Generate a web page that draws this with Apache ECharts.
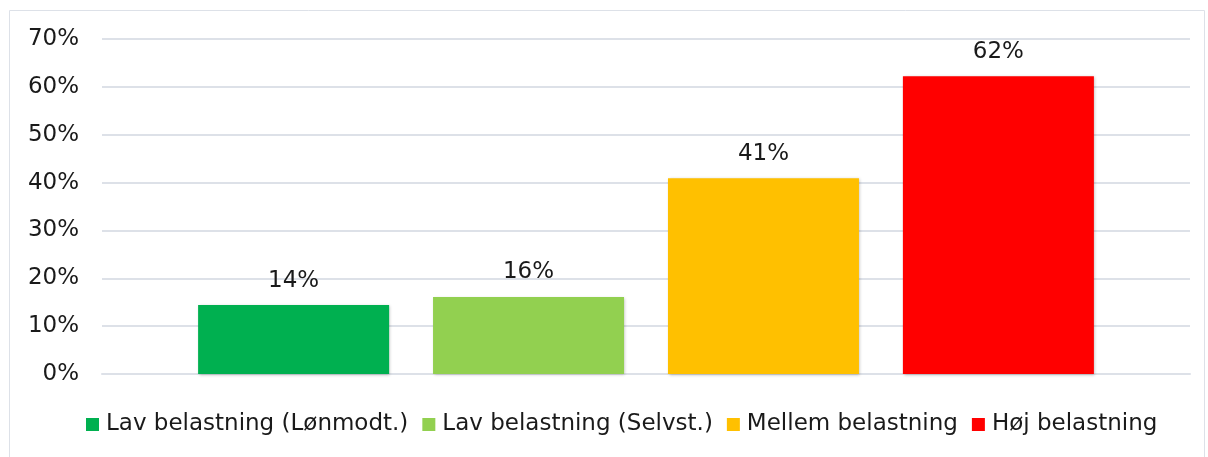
<!DOCTYPE html>
<html lang="da">
  <head>
    <meta charset="UTF-8" />
    <title>Belastning</title>
    <style>
      body { margin: 0; padding: 0; background: #ffffff; }
      #container { width: 1208px; height: 457px; }
    </style>
  </head>
  <body>
    <div id="container"></div>
    <script src="https://cdn.jsdelivr.net/npm/echarts@6/dist/echarts.min.js"></script>
    <script>
      // data
      const seriesNames = [
        "Lav belastning (Lønmodt.)",
        "Lav belastning (Selvst.)",
        "Mellem belastning",
        "Høj belastning",
      ];
      const seriesValues = [14.4, 16.1, 40.9, 62.2];
      const seriesColors = ["#00b050", "#92d050", "#ffc000", "#ff0000"];
      const yTicks = [0, 10, 20, 30, 40, 50, 60, 70];

      const font = "DejaVu Sans";
      const chart = echarts.init(document.getElementById("container"));

      const series = seriesNames.map((name, i) => ({
        name: name,
        type: "bar",
        data: [seriesValues[i]],
        barWidth: 191,
        barGap: "23%",
        itemStyle: {
          color: seriesColors[i],
          shadowColor: "rgba(0,0,0,0.25)",
          shadowBlur: 3,
          shadowOffsetX: 1,
          shadowOffsetY: 1,
        },
        label: {
          show: true,
          position: "top",
          distance: 13,
          formatter: (p) => Math.round(p.value) + "%",
          fontFamily: font,
          fontSize: 23,
          color: "#1a1a1a",
        },
      }));

      chart.setOption({
        animation: false,
        graphic: [
          {
            type: "rect",
            shape: { x: 9.5, y: 10.5, width: 1195, height: 460 },
            style: { fill: "none", stroke: "#dde1e8", lineWidth: 1 },
          },
        ],
        grid: { left: 102, right: 18, top: 39, bottom: 83 },
        legend: {
          bottom: 16,
          left: 81,
          itemWidth: 13,
          itemHeight: 13,
          itemGap: 14,
          icon: "rect",
          textStyle: {
            fontFamily: font,
            fontSize: 23,
            color: "#1a1a1a",
            padding: [0, 0, 0, 2],
          },
          data: seriesNames,
        },
        xAxis: {
          type: "category",
          data: [""],
          axisLine: { show: true, lineStyle: { color: "#dde1e8", width: 2 } },
          axisTick: { show: false },
          axisLabel: { show: false },
        },
        yAxis: {
          type: "value",
          min: yTicks[0],
          max: yTicks[yTicks.length - 1],
          interval: 10,
          axisLine: { show: false },
          axisTick: { show: false },
          axisLabel: {
            formatter: "{value}%",
            fontFamily: font,
            fontSize: 23,
            color: "#1a1a1a",
            margin: 23,
          },
          splitLine: { lineStyle: { color: "#dde1e8", width: 2 } },
        },
        series: series,
      });
    </script>
  </body>
</html>
